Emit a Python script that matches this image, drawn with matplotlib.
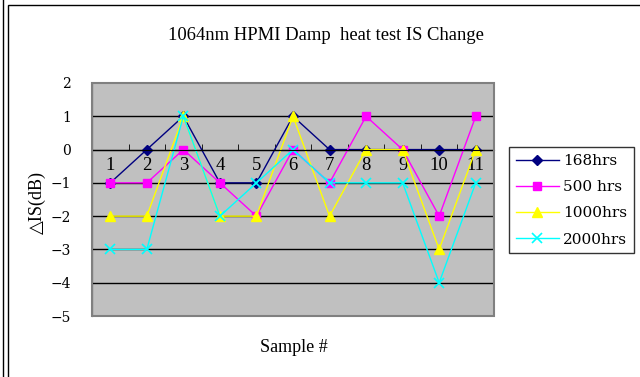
import numpy as np
import matplotlib.pyplot as plt
from matplotlib.patches import Rectangle
from matplotlib.lines import Line2D

samples = [1, 2, 3, 4, 5, 6, 7, 8, 9, 10, 11]
h168 = [-1, 0, 1, -1, -1, 1, 0, 0, 0, 0, 0]
h500 = [-1, -1, 0, -1, -2, 0, -1, 1, 0, -2, 1]
h1000 = [-2, -2, 1, -2, -2, 1, -2, 0, 0, -3, 0]
h2000 = [-3, -3, 1, -2, -1, 0, -1, -1, -1, -4, -1]
labels = ["168hrs", "500 hrs", "1000hrs", "2000hrs"]
yticks = [-5, -4, -3, -2, -1, 0, 1, 2]

plt.rcParams["font.family"] = ["Liberation Serif", "DejaVu Serif"]
wide = ["DejaVu Serif"]

fig = plt.figure(figsize=(6.4, 3.77), dpi=100)
fig.patch.set_facecolor("white")

# outer chart frame
fig.add_artist(Rectangle((8 / 640, -0.05), 1.0, 1 - 5 / 377 + 0.05,
                         transform=fig.transFigure, fill=False,
                         edgecolor="black", linewidth=1.0))
fig.add_artist(Line2D([3 / 640, 3 / 640], [0, 1], transform=fig.transFigure,
                      color="black", linewidth=1.0))

ax = fig.add_axes([92 / 640, 61 / 377, 402 / 640, 233 / 377])
ax.set_facecolor("#C0C0C0")

ax.plot(samples, h168, color="#000080", marker="D", markersize=5, lw=1.0, label=labels[0])
ax.plot(samples, h500, color="#FF00FF", marker="s", markersize=6, lw=1.0, label=labels[1])
ax.plot(samples, h1000, color="#FFFF00", marker="^", markersize=7, lw=1.0, label=labels[2])
ax.plot(samples, h2000, color="#00FFFF", marker="x", markersize=7, mew=1.2, lw=1.0, label=labels[3])

ax.set_xlim(0.5, 11.5)
ax.set_ylim(-5, 2)
ax.set_yticks(yticks)
ax.set_yticklabels([str(v).replace("-", "\u2212") for v in yticks],
                   family=wide, fontsize=10)
for y in yticks[1:-1]:
    ax.axhline(y, color="black", lw=1.0, zorder=1)

ax.spines["bottom"].set_position(("data", 0))
ax.spines["bottom"].set_color("black")
ax.spines["top"].set_visible(False)
ax.spines["right"].set_visible(False)
ax.spines["left"].set_color("black")
ax.add_patch(Rectangle((0, 0), 1, 1, transform=ax.transAxes, fill=False,
                       edgecolor="#808080", lw=1.5, zorder=5, clip_on=False))

ax.set_xticks(samples)
ax.set_xticklabels([str(s) for s in samples], fontsize=13.5)
ax.tick_params(axis="x", length=0, pad=5)
ax.set_xticks(np.arange(1.5, 11, 1), minor=True)
ax.tick_params(axis="x", which="minor", direction="in", length=4, color="black")
ax.tick_params(axis="y", length=0, pad=15)

fig.text(326 / 640, 1 - 36 / 377, "1064nm HPMI Damp  heat test IS Change",
         ha="center", va="center", fontsize=13.4)
fig.text(294 / 640, 1 - 348 / 377, "Sample #", ha="center", va="center", fontsize=13)
fig.text(37 / 640, 1 - 202 / 377, "\u25b3IS(dB)", ha="center", va="center",
         rotation=90, fontsize=13)

leg = fig.legend(loc="upper left", bbox_to_anchor=(509 / 640, 1 - 147 / 377),
                 frameon=True, fancybox=False, handlelength=2.8,
                 prop={"family": wide, "size": 11},
                 borderpad=0.45, labelspacing=0.8, handletextpad=0.3,
                 borderaxespad=0)
leg.get_frame().set_edgecolor("black")
leg.get_frame().set_linewidth(1.0)

fig.savefig("out.png", dpi=100)
